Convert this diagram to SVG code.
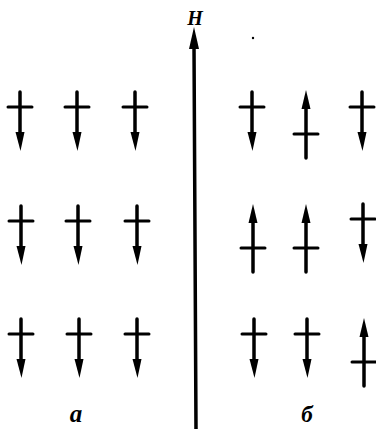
<svg xmlns="http://www.w3.org/2000/svg" width="376" height="429" viewBox="0 0 376 429">
<style>
.s{stroke:#000;stroke-width:3.5;stroke-linecap:round;fill:none}
.c{stroke:#000;stroke-width:3;stroke-linecap:round;fill:none}
.h{fill:#000}
.lbl{font-family:"Liberation Serif",serif;font-weight:bold;font-style:italic;fill:#000}
</style>
<defs>
<g id="down"><line class="s" x1="0" y1="-15" x2="0" y2="30"/><line class="c" x1="-12" y1="0" x2="12" y2="0"/><polygon class="h" points="-4.5,25 4.5,25 0.5,44"/></g>
<g id="up"><line class="s" x1="0" y1="24" x2="0" y2="-30"/><line class="c" x1="-12" y1="0" x2="12" y2="0"/><polygon class="h" points="-4.5,-25 4.5,-25 0,-44"/></g>
</defs>
<rect width="376" height="429" fill="#fff"/>
<g id="axis-H">
<line class="s" x1="194" y1="45" x2="196" y2="429"/>
<polygon class="h" points="189,49 199,49 194,27"/>
<text class="lbl" x="195" y="25" font-size="20" text-anchor="middle">H</text>
</g>
<circle cx="253" cy="38" r="1.2" fill="#000"/>
<g id="a-r1c1"><use href="#down" x="20" y="107"/></g>
<g id="a-r1c2"><use href="#down" x="77" y="107"/></g>
<g id="a-r1c3"><use href="#down" x="135" y="107"/></g>
<g id="a-r2c1"><use href="#down" x="21" y="221"/></g>
<g id="a-r2c2"><use href="#down" x="78" y="221"/></g>
<g id="a-r2c3"><use href="#down" x="137" y="221"/></g>
<g id="a-r3c1"><use href="#down" x="21" y="334"/></g>
<g id="a-r3c2"><use href="#down" x="79" y="334"/></g>
<g id="a-r3c3"><use href="#down" x="137" y="334"/></g>
<g id="b-r1c1"><use href="#down" x="252" y="107"/></g>
<g id="b-r1c2"><use href="#up" x="306" y="134"/></g>
<g id="b-r1c3"><use href="#down" x="362" y="107"/></g>
<g id="b-r2c1"><use href="#up" x="253" y="248"/></g>
<g id="b-r2c2"><use href="#up" x="306" y="248"/></g>
<g id="b-r2c3"><use href="#down" x="363" y="219"/></g>
<g id="b-r3c1"><use href="#down" x="254" y="334"/></g>
<g id="b-r3c2"><use href="#down" x="307" y="334"/></g>
<g id="b-r3c3"><use href="#up" x="364" y="362"/></g>
<text class="lbl" x="76" y="422" font-size="25" text-anchor="middle">a</text>
<text class="lbl" x="307" y="422" font-size="23" text-anchor="middle">б</text>
</svg>
